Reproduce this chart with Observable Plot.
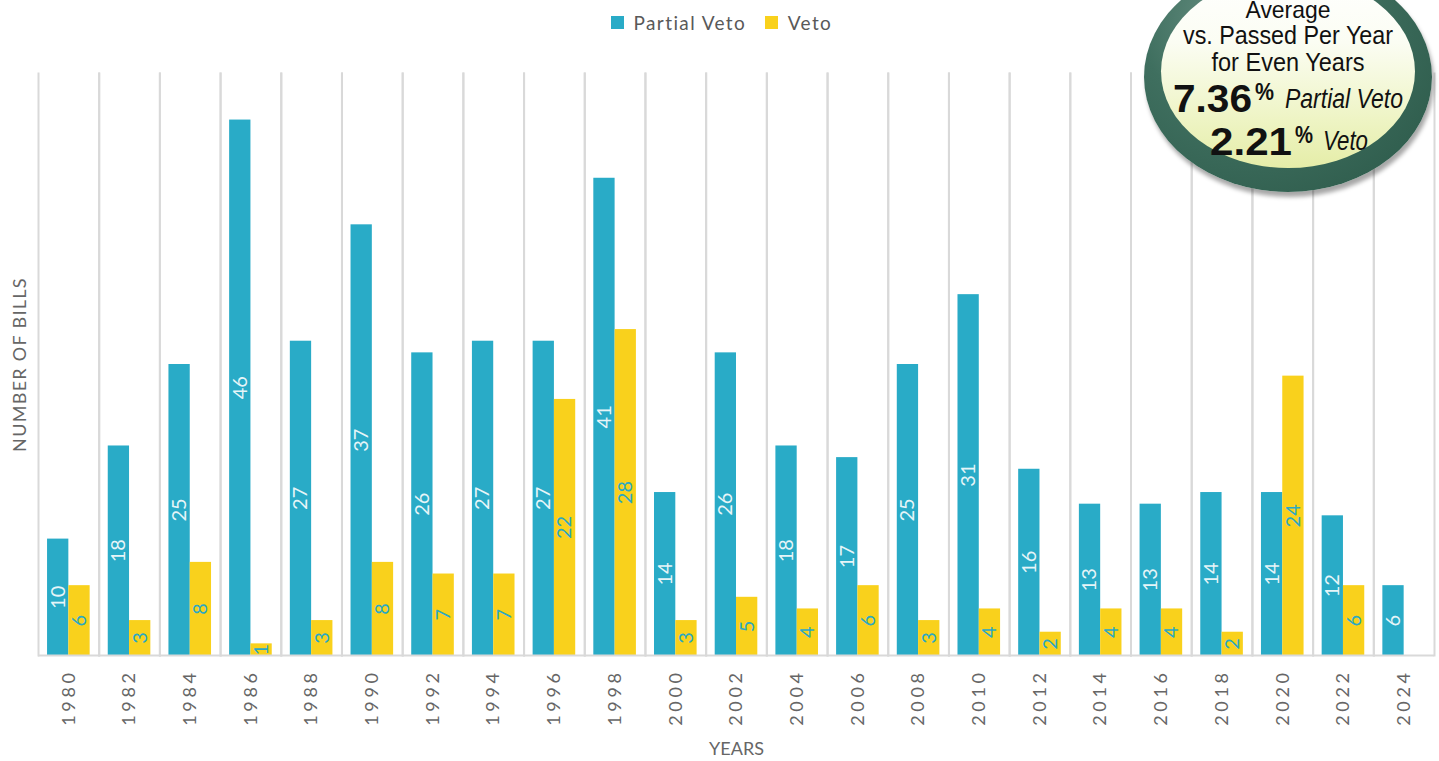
<!DOCTYPE html>
<html>
<head>
<meta charset="utf-8">
<script src="https://cdn.jsdelivr.net/npm/d3@7"></script>
<script src="https://cdn.jsdelivr.net/npm/@observablehq/plot@0.6"></script>
<style>
  html, body { margin: 0; padding: 0; background: #fff; overflow: hidden; }
  body { width: 1439px; height: 761px; position: relative; font-family: Lato, "Open Sans", sans-serif; }
  #chart { position: absolute; left: 0; top: 0; }
  #chart svg g[aria-label="fx-axis tick label"] text { letter-spacing: 3.6px; }
  #chart svg g[aria-label="y-axis label"] text { letter-spacing: 1.3px; }
  #legend { position: absolute; left: 611px; top: 6px; }
  #badge-outer {
    position: absolute; left: 1144px; top: -38px; width: 288px; height: 230px;
    border-radius: 50%;
    background: radial-gradient(ellipse at 35% 25%, #6d9487 0%, #3f6f5f 40%, #2a5747 100%);
    box-shadow: 2px 5px 4px rgba(0,0,0,0.35);
  }
  #badge-inner {
    position: absolute; left: 17px; top: 13px; width: 254px; height: 193px;
    border-radius: 50%;
    background: linear-gradient(to bottom, #ffffff 0%, #fbfdf3 35%, #eef4c4 75%, #e5eda8 100%);
  }
  #badge-text { position: absolute; left: 0; top: 0; pointer-events: none; }
  #badge-text text { font-family: "Liberation Sans", Arial, sans-serif; fill: #111; }
</style>
</head>
<body>
<div id="chart"></div>
<div id="legend"></div>
<div id="badge-outer"><div id="badge-inner"></div></div>
<svg id="badge-text" width="1439" height="210">
  <text x="1288" y="18" text-anchor="middle" font-size="24" textLength="85" lengthAdjust="spacingAndGlyphs">Average</text>
  <text x="1288" y="44" text-anchor="middle" font-size="25" textLength="210" lengthAdjust="spacingAndGlyphs">vs. Passed Per Year</text>
  <text x="1288" y="71" text-anchor="middle" font-size="25" textLength="153" lengthAdjust="spacingAndGlyphs">for Even Years</text>
  <text x="1173" y="112" font-size="39" font-weight="bold" textLength="79" lengthAdjust="spacingAndGlyphs">7.36</text>
  <text x="1255" y="100" font-size="23" font-weight="bold" textLength="19" lengthAdjust="spacingAndGlyphs">%</text>
  <text x="1285" y="108" font-size="27" font-style="italic" textLength="118" lengthAdjust="spacingAndGlyphs">Partial Veto</text>
  <text x="1210" y="155" font-size="39" font-weight="bold" textLength="82" lengthAdjust="spacingAndGlyphs">2.21</text>
  <text x="1295" y="143" font-size="23" font-weight="bold" textLength="18" lengthAdjust="spacingAndGlyphs">%</text>
  <text x="1323" y="150" font-size="27" font-style="italic" textLength="45" lengthAdjust="spacingAndGlyphs">Veto</text>
</svg>
<script>
const years = ["1980","1982","1984","1986","1988","1990","1992","1994","1996","1998","2000","2002","2004","2006","2008","2010","2012","2014","2016","2018","2020","2022","2024"];
const partialVeto = [10,18,25,46,27,37,26,27,27,41,14,26,18,17,25,31,16,13,13,14,14,12,6];
const veto = [6,3,8,1,3,8,7,7,22,28,3,5,4,6,3,4,2,4,4,2,24,6,0];
const seriesNames = ["Partial Veto","Veto"];
const seriesColors = ["#29abc7","#f9d11c"];

const data = [];
years.forEach((y, i) => {
  data.push({year: y, series: seriesNames[0], value: partialVeto[i]});
  data.push({year: y, series: seriesNames[1], value: veto[i]});
});

const chart = Plot.plot({
  width: 1439,
  height: 761,
  marginLeft: 38,
  marginRight: 5,
  marginTop: 73,
  marginBottom: 106,
  style: {fontFamily: "Lato, sans-serif", background: "transparent"},
  fx: {domain: years, padding: 0, round: false, label: null},
  x: {domain: seriesNames, paddingInner: 0, paddingOuter: 0.425, round: false, axis: null},
  y: {domain: [0, 50], axis: null},
  color: {domain: seriesNames, range: seriesColors},
  marks: [
    Plot.frame({anchor: "left", stroke: "#d9d9d9", strokeWidth: 2}),
    Plot.frame({anchor: "right", stroke: "#d9d9d9", strokeWidth: 2}),
    Plot.barY(data, {fx: "year", x: "series", y: "value", fill: "series"}),
    Plot.ruleY([0], {stroke: "#d9d9d9", strokeWidth: 2}),
    Plot.text(data.filter(d => d.series === "Partial Veto" && d.value > 0),
      {fx: "year", x: "series", y: d => d.value / 2, text: d => String(d.value), rotate: -90, fill: "#e6f5f8", fontSize: 20}),
    Plot.text(data.filter(d => d.series === "Veto" && d.value > 0),
      {fx: "year", x: "series", y: d => d.value / 2, text: d => String(d.value), rotate: -90, fill: "#2aa8c4", fontSize: 20}),
    Plot.axisFx({anchor: "bottom", tickRotate: -90, tickSize: 0, tickPadding: 14, fontSize: 18, fill: "#666",
      label: "YEARS", labelAnchor: "center", labelArrow: "none", labelOffset: 99}),
    Plot.axisY({anchor: "left", ticks: [], tickSize: 0, fontSize: 18, fill: "#666",
      label: "NUMBER OF BILLS", labelAnchor: "center", labelArrow: "none", labelOffset: 25})
  ]
});
document.getElementById("chart").appendChild(chart);

const legend = Plot.legend({
  color: {domain: seriesNames, range: seriesColors},
  swatchSize: 13,
  style: {fontSize: "19px", fontFamily: "Lato, sans-serif", color: "#595959", letterSpacing: "1.4px"}
});
document.getElementById("legend").appendChild(legend);
</script>
</body>
</html>
